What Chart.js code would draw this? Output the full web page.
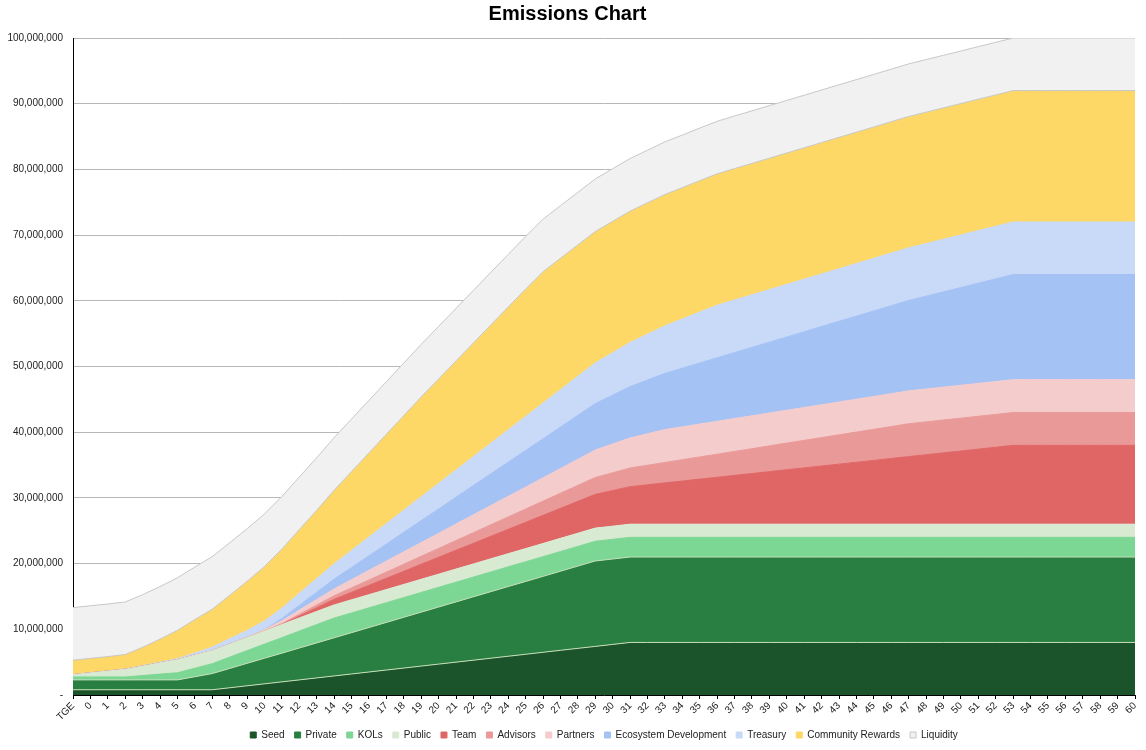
<!DOCTYPE html>
<html>
<head>
<meta charset="utf-8">
<title>Emissions Chart</title>
<script src="https://cdn.jsdelivr.net/npm/chart.js@4.4.1/dist/chart.umd.min.js"></script>
<style>
  html, body { margin: 0; padding: 0; background: #fff; }
</style>
</head>
<body>
<canvas id="emissionsChart" width="1146" height="750"></canvas>
<script>
// month labels along the x axis
const categories = ['TGE', '0', '1', '2', '3', '4', '5', '6', '7', '8', '9', '10',
  '11', '12', '13', '14', '15', '16', '17', '18', '19', '20', '21', '22', '23', '24',
  '25', '26', '27', '28', '29', '30', '31', '32', '33', '34', '35', '36', '37', '38',
  '39', '40', '41', '42', '43', '44', '45', '46', '47', '48', '49', '50', '51', '52',
  '53', '54', '55', '56', '57', '58', '59', '60'];

// tokens unlocked per allocation, in millions
const seed = [0.8, 0.8, 0.8, 0.8, 0.8, 0.8, 0.8, 0.8, 0.8,
  1.1, 1.4, 1.7, 2.0, 2.3, 2.6, 2.9, 3.2, 3.5, 3.8, 4.1, 4.4, 4.7, 5.0, 5.3, 5.6,
  5.9, 6.2, 6.5, 6.8, 7.1, 7.4, 7.7,
  8, 8, 8, 8, 8, 8, 8, 8, 8, 8, 8, 8, 8, 8, 8, 8, 8, 8, 8, 8, 8, 8, 8, 8, 8, 8, 8, 8, 8, 8];

const privateSale = [1.5, 1.5, 1.5, 1.5, 1.5, 1.5, 1.5,
  1.98, 2.46, 2.94, 3.42, 3.9, 4.37, 4.85, 5.33, 5.81, 6.29, 6.77, 7.25, 7.73, 8.21,
  8.69, 9.17, 9.65, 10.13, 10.61, 11.08, 11.56, 12.04, 12.52,
  13, 13, 13, 13, 13, 13, 13, 13, 13, 13, 13, 13, 13, 13, 13, 13, 13, 13, 13, 13, 13, 13,
  13, 13, 13, 13, 13, 13, 13, 13, 13, 13];

const kols = [0.45, 0.45, 0.45, 0.45,
  0.66, 0.88, 1.09, 1.3, 1.51, 1.73, 1.94, 2.15, 2.36, 2.58, 2.79,
  3, 3, 3, 3, 3, 3, 3, 3, 3, 3, 3, 3, 3, 3, 3, 3, 3, 3, 3, 3, 3, 3, 3, 3, 3, 3, 3, 3, 3, 3,
  3, 3, 3, 3, 3, 3, 3, 3, 3, 3, 3, 3, 3, 3, 3, 3, 3];

const publicSale = [0.35, 0.63, 0.9, 1.18, 1.45, 1.73,
  2, 2, 2, 2, 2, 2, 2, 2, 2, 2, 2, 2, 2, 2, 2, 2, 2, 2, 2, 2, 2, 2, 2, 2, 2, 2, 2, 2, 2, 2,
  2, 2, 2, 2, 2, 2, 2, 2, 2, 2, 2, 2, 2, 2, 2, 2, 2, 2, 2, 2, 2, 2, 2, 2, 2, 2];

const team = [0, 0, 0, 0, 0, 0, 0, 0, 0, 0, 0, 0, 0,
  0.29, 0.57, 0.86, 1.14, 1.43, 1.71, 2.0, 2.29, 2.57, 2.86, 3.14, 3.43, 3.71, 4.0,
  4.29, 4.57, 4.86, 5.14, 5.43, 5.71, 6.0, 6.29, 6.57, 6.86, 7.14, 7.43, 7.71, 8.0,
  8.29, 8.57, 8.86, 9.14, 9.43, 9.71, 10.0, 10.29, 10.57, 10.86, 11.14, 11.43, 11.71,
  12, 12, 12, 12, 12, 12, 12, 12];

const advisors = [0, 0, 0, 0, 0, 0, 0, 0, 0, 0, 0, 0,
  0.14, 0.27, 0.41, 0.54, 0.68, 0.81, 0.95, 1.08, 1.22, 1.35, 1.49, 1.62, 1.76, 1.89,
  2.03, 2.16, 2.3, 2.43, 2.57, 2.7, 2.84, 2.97, 3.11, 3.24, 3.38, 3.51, 3.65, 3.78,
  3.92, 4.05, 4.19, 4.32, 4.46, 4.59, 4.73, 4.86,
  5, 5, 5, 5, 5, 5, 5, 5, 5, 5, 5, 5, 5, 5];

const partners = [0, 0, 0, 0, 0, 0, 0, 0, 0, 0, 0,
  0.21, 0.42, 0.63, 0.83, 1.04, 1.25, 1.46, 1.67, 1.88, 2.08, 2.29, 2.5, 2.71, 2.92,
  3.13, 3.33, 3.54, 3.75, 3.96, 4.17, 4.38, 4.58, 4.79,
  5, 5, 5, 5, 5, 5, 5, 5, 5, 5, 5, 5, 5, 5, 5, 5, 5, 5, 5, 5, 5, 5, 5, 5, 5, 5, 5, 5];

const ecosystem = [0, 0, 0, 0, 0, 0, 0, 0, 0, 0, 0, 0,
  0.37, 0.74, 1.12, 1.49, 1.86, 2.23, 2.6, 2.98, 3.35, 3.72, 4.09, 4.47, 4.84, 5.21,
  5.58, 5.95, 6.33, 6.7, 7.07, 7.44, 7.81, 8.19, 8.56, 8.93, 9.3, 9.67, 10.05, 10.42,
  10.79, 11.16, 11.53, 11.91, 12.28, 12.65, 13.02, 13.4, 13.77, 14.14, 14.51, 14.88,
  15.26, 15.63,
  16, 16, 16, 16, 16, 16, 16, 16];

const treasury = [0, 0, 0, 0.03, 0.06, 0.1, 0.15, 0.3, 0.5, 0.8, 1.05, 1.3, 1.56, 1.82,
  2.07, 2.33, 2.59, 2.85, 3.11, 3.36, 3.62, 3.88, 4.14, 4.4, 4.65, 4.91, 5.17, 5.43,
  5.69, 5.94, 6.2, 6.46, 6.72, 6.97, 7.23, 7.49, 7.75,
  8, 8, 8, 8, 8, 8, 8, 8, 8, 8, 8, 8, 8, 8, 8, 8, 8, 8, 8, 8, 8, 8, 8, 8, 8];

const community = [2.2, 2.2, 2.2, 2.2, 2.8, 3.5, 4.3, 5.1, 5.8, 6.6, 7.5, 8.3, 9.0, 9.7,
  10.4, 11.2, 12.0, 12.8, 13.6, 14.4, 15.2, 15.9, 16.6, 17.3, 18.0, 18.7, 19.4,
  20, 20, 20, 20, 20, 20, 20, 20, 20, 20, 20, 20, 20, 20, 20, 20, 20, 20, 20, 20, 20, 20,
  20, 20, 20, 20, 20, 20, 20, 20, 20, 20, 20, 20, 20];

const liquidity = [8, 8, 8, 8, 8, 8, 8, 8, 8, 8, 8, 8, 8, 8, 8, 8, 8, 8, 8, 8, 8, 8,
  8, 8, 8, 8, 8, 8, 8, 8, 8, 8, 8, 8, 8, 8, 8, 8, 8, 8, 8, 8, 8, 8, 8, 8, 8, 8, 8, 8,
  8, 8, 8, 8, 8, 8, 8, 8, 8, 8, 8, 8];

const seriesNames = ['Seed', 'Private', 'KOLs', 'Public', 'Team', 'Advisors', 'Partners',
  'Ecosystem Development', 'Treasury', 'Community Rewards', 'Liquidity'];
const seriesValues = [seed, privateSale, kols, publicSale, team, advisors, partners,
  ecosystem, treasury, community, liquidity];

const fillColors = ['#1b542a', '#287f41', '#7dd794', '#d9ead3', '#e06666', '#ea9999',
  '#f4cccc', '#a4c2f4', '#c9daf8', '#fdd866', '#f1f1f1'];
const lineColors = ['#c6dfb8', '#c6dfb8', '#7dd794', '#d9ead3', '#e06666', '#ea9999',
  '#f4cccc', '#a4c2f4', '#c9daf8', '#c8c8c8', '#c8c8c8'];
const legendEdges = ['#1b542a', '#287f41', '#7dd794', '#d9ead3', '#e06666', '#ea9999',
  '#f4cccc', '#a4c2f4', '#c9daf8', '#fdd866', '#c8c8c8'];

const FONT = "'Liberation Sans', Arial, sans-serif";

const ctx = document.getElementById('emissionsChart').getContext('2d');

new Chart(ctx, {
  type: 'line',
  data: {
    labels: categories,
    datasets: seriesValues.map((values, i) => ({
      label: seriesNames[i],
      data: values.map(v => v * 1000000),
      backgroundColor: fillColors[i],
      borderColor: lineColors[i],
      borderWidth: 1,
      pointRadius: 0,
      pointHoverRadius: 0,
      tension: 0,
      fill: i === 0 ? 'origin' : '-1'
    }))
  },
  options: {
    responsive: false,
    animation: false,
    layout: { padding: { left: 0, right: 11, top: 0, bottom: 0 } },
    plugins: {
      title: {
        display: true,
        text: 'Emissions Chart',
        color: '#000',
        font: { family: FONT, size: 20, weight: 'bold' },
        padding: { top: 2, bottom: 12 }
      },
      legend: {
        position: 'bottom',
        fullSize: false,
        labels: {
          boxWidth: 6,
          boxHeight: 6,
          padding: 10,
          color: '#222',
          font: { family: FONT, size: 10 },
          generateLabels: chart => Chart.defaults.plugins.legend.labels.generateLabels(chart)
            .map((item, i) => ({ ...item, strokeStyle: legendEdges[i], lineWidth: 1 }))
        }
      },
      tooltip: { enabled: false }
    },
    scales: {
      x: {
        offset: false,
        grid: { drawOnChartArea: false, drawTicks: true, tickLength: 4, color: '#000' },
        border: { color: '#000', width: 1 },
        ticks: {
          autoSkip: false,
          maxRotation: 45,
          minRotation: 45,
          padding: 1,
          color: '#222',
          font: { family: FONT, size: 10 }
        },
        afterFit: scale => { scale.height = 25; }
      },
      y: {
        stacked: true,
        min: 0,
        max: 100000000,
        grid: { color: '#b7b7b7', drawTicks: false },
        border: { color: '#000', width: 1 },
        ticks: {
          stepSize: 10000000,
          padding: 10,
          color: '#222',
          font: { family: FONT, size: 10 },
          callback: v => v === 0 ? '-' : v.toLocaleString('en-US')
        },
        afterFit: scale => { scale.width = 73; }
      }
    }
  }
});
</script>
</body>
</html>
